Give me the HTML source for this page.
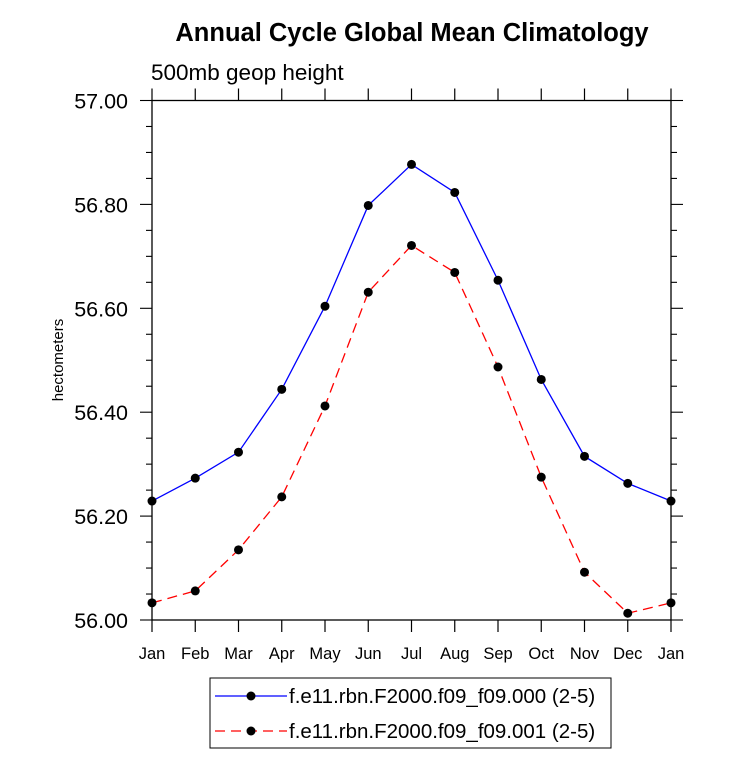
<!DOCTYPE html>
<html><head><meta charset="utf-8"><style>
body{margin:0;background:#fff;}
svg text{font-family:"Liberation Sans",Arial,sans-serif;}
</style></head><body>
<svg width="733" height="770" id="c">
<text x="412" y="41" text-anchor="middle" font-size="25.5" font-weight="bold">Annual Cycle Global Mean Climatology</text>
<text x="151" y="80" font-size="22.5">500mb geop height</text>
<text transform="translate(63,360) rotate(-90)" text-anchor="middle" font-size="15">hectometers</text>
<g id="axes"></g>
<g id="series"></g>
<g>
<rect x="210" y="678" width="401" height="70" fill="none" stroke="#000" stroke-width="1"/>
<g>
<line x1="215" y1="696" x2="287" y2="696" stroke="#00f" stroke-width="1.3"/>
<circle cx="251" cy="696" r="4.5" fill="#000"/>
<text x="289" y="703" font-size="20.5">f.e11.rbn.F2000.f09_f09.000 (2-5)</text>
</g>
<g>
<line x1="215" y1="731" x2="287" y2="731" stroke="#f00" stroke-width="1.3" stroke-dasharray="10,6"/>
<circle cx="251" cy="731" r="4.5" fill="#000"/>
<text x="289" y="738" font-size="20.5">f.e11.rbn.F2000.f09_f09.001 (2-5)</text>
</g>
</g>
</svg>
<script>
const months=["Jan","Feb","Mar","Apr","May","Jun","Jul","Aug","Sep","Oct","Nov","Dec","Jan"];
const seriesA=[56.229,56.273,56.323,56.444,56.604,56.798,56.877,56.823,56.654,56.463,56.315,56.263,56.229];
const seriesB=[56.033,56.056,56.135,56.237,56.412,56.631,56.721,56.669,56.487,56.275,56.092,56.013,56.033];
const yTicks=["56.00","56.20","56.40","56.60","56.80","57.00"];
const L=152,R=671,T=100.5,B=620,YMIN=56,YMAX=57;
const xs=i=>L+(R-L)*i/(months.length-1);
const ys=v=>B-(v-YMIN)/(YMAX-YMIN)*(B-T);
const NS="http://www.w3.org/2000/svg";
function mk(tag,at,parent){const e=document.createElementNS(NS,tag);for(const k in at)e.setAttribute(k,at[k]);parent.appendChild(e);return e;}
const ax=document.getElementById('axes');
const frame=mk('rect',{x:L,y:T,width:R-L,height:B-T,fill:'none',stroke:'#000','stroke-width':1.3},ax);


for(let i=0;i<months.length;i++){
 const x=xs(i);
 mk('line',{x1:x,y1:B,x2:x,y2:B+12,stroke:'#000','stroke-width':1.2},ax);
 mk('line',{x1:x,y1:T,x2:x,y2:T-12,stroke:'#000','stroke-width':1.2},ax);
 const t=mk('text',{x:x,y:B+39,'text-anchor':'middle','font-size':16.5},ax);
 t.textContent=months[i];
 
 
}
for(let v=0;v<=20;v++){
 const val=YMIN+v*0.05,y=ys(val),len=v%4===0?12:6;
 mk('line',{x1:L,y1:y,x2:L-len,y2:y,stroke:'#000','stroke-width':1.1},ax);
 mk('line',{x1:R,y1:y,x2:R+len,y2:y,stroke:'#000','stroke-width':1.1},ax);
}
yTicks.forEach(s=>{
 const t=mk('text',{x:L-24,y:ys(parseFloat(s))+8,'text-anchor':'end','font-size':21.5},ax);
 t.textContent=s;
 
 
});
const sg=document.getElementById('series');
function draw(vals,color,dash,name){
 const g=mk('g',{},sg);
 
 
 const p=mk('polyline',{points:vals.map((v,i)=>xs(i)+','+ys(v)).join(' '),fill:'none',stroke:color,'stroke-width':1.3},g);
 if(dash)p.setAttribute('stroke-dasharray',dash);
 vals.forEach((v,i)=>{
  const c=mk('circle',{cx:xs(i),cy:ys(v),r:4.5,fill:'#000'},g);
  
  
 });
}
draw(seriesA,'#00f',null,'series-000');
draw(seriesB,'#f00','10,6','series-001');
</script>
</body></html>
